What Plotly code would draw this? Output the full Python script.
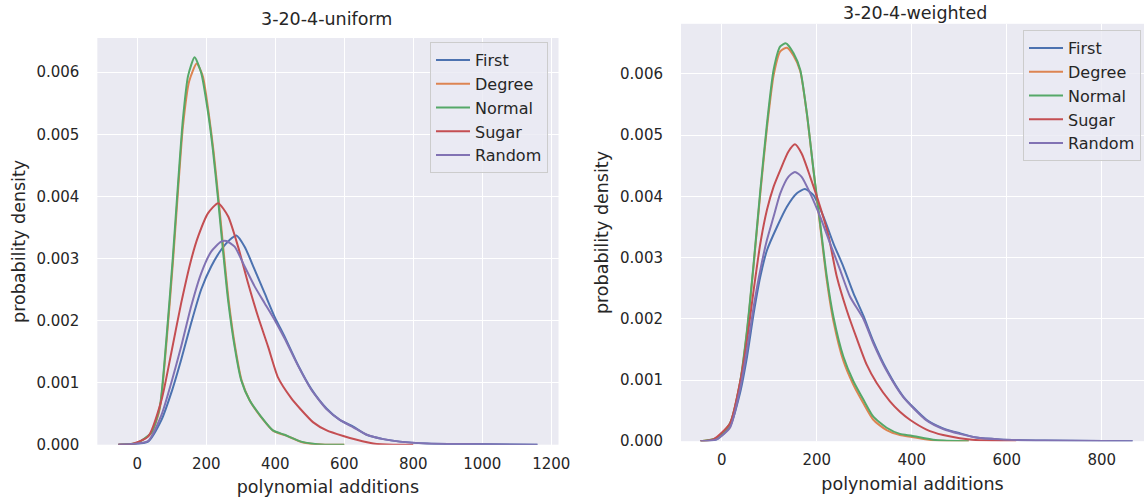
import plotly.graph_objects as go

# ---------------- data ----------------
series_names = ["First", "Degree", "Normal", "Sugar", "Random"]
colors = ["#4C72B0", "#DD8452", "#55A868", "#C44E52", "#8172B3"]

panel_titles = ["3-20-4-uniform", "3-20-4-weighted"]
x_label = "polynomial additions"
y_label = "probability density"

# ---- left panel: 3-20-4-uniform ----
uni_first_x = [-55, -17, 31, 70, 98, 127, 156, 185, 214, 243, 268, 287, 311, 340, 369, 398, 427, 466, 504, 549, 587, 626, 665, 713, 761, 839, 955, 1160]
uni_first_y = [0, 0.00001, 0.00005, 0.0004, 0.00083, 0.00137, 0.00196, 0.0025, 0.00287, 0.00314, 0.0033, 0.00337, 0.00319, 0.00282, 0.00244, 0.00206, 0.00174, 0.00128, 0.0009, 0.00058, 0.0004, 0.00029, 0.00016, 0.00009, 0.00005, 0.00002, 0.00001, 0.0]

uni_degree_x = [-55, 0, 41, 65, 84, 103, 118, 132, 150, 172, 190, 207, 221, 236, 250, 265, 284, 303, 327, 361, 395, 430, 478, 545, 600]
uni_degree_y = [0, 0.00003, 0.00019, 0.00058, 0.00162, 0.00293, 0.0041, 0.00512, 0.00585, 0.00614, 0.00593, 0.00533, 0.00472, 0.00392, 0.00312, 0.00231, 0.00156, 0.00102, 0.0007, 0.00043, 0.00022, 0.00015, 0.00004, 0.0, 0.0]

uni_normal_x = [-55, 0, 41, 65, 84, 103, 118, 132, 147, 166, 185, 205, 219, 234, 248, 263, 282, 301, 325, 359, 393, 427, 475, 543, 600]
uni_normal_y = [0, 0.00003, 0.0002, 0.00061, 0.00169, 0.00303, 0.00421, 0.00524, 0.00594, 0.00624, 0.00599, 0.00535, 0.00475, 0.00395, 0.00314, 0.00233, 0.00158, 0.00104, 0.00072, 0.00045, 0.00023, 0.00016, 0.00005, 0.0, 0.0]

uni_sugar_x = [-55, -17, 31, 70, 98, 127, 156, 176, 205, 234, 263, 292, 321, 350, 379, 408, 446, 472, 510, 549, 597, 636, 684, 742, 800]
uni_sugar_y = [0, 0.00001, 0.00013, 0.00072, 0.00147, 0.00228, 0.00298, 0.00335, 0.00373, 0.00389, 0.00368, 0.00319, 0.0026, 0.00206, 0.00158, 0.00108, 0.00075, 0.00058, 0.00036, 0.00023, 0.00014, 0.00008, 0.00002, 0.0, 0.0]

uni_random_x = [-55, -17, 31, 70, 98, 127, 156, 185, 214, 243, 258, 282, 311, 340, 369, 398, 427, 466, 504, 549, 587, 626, 665, 713, 761, 839, 955, 1160]
uni_random_y = [0, 0.00001, 0.00006, 0.00048, 0.00099, 0.00158, 0.00223, 0.00276, 0.00311, 0.00327, 0.00328, 0.00319, 0.00287, 0.00255, 0.00228, 0.00201, 0.00171, 0.00127, 0.00089, 0.00057, 0.0004, 0.00028, 0.00016, 0.00009, 0.00005, 0.00002, 0.00001, 0.0]

# ---- right panel: 3-20-4-weighted ----
wei_first_x = [-45, -11, 17, 38, 53, 67, 81, 95, 116, 137, 158, 175, 193, 214, 235, 256, 277, 298, 319, 347, 382, 431, 466, 501, 536, 585, 677, 865]
wei_first_y = [0, 0.00003, 0.00024, 0.00078, 0.00138, 0.00209, 0.00269, 0.00312, 0.0035, 0.00383, 0.00405, 0.00412, 0.00402, 0.00367, 0.00323, 0.00285, 0.00242, 0.00205, 0.00163, 0.00117, 0.00073, 0.00035, 0.00021, 0.00013, 0.00006, 0.00003, 0.00001, 0]

wei_degree_x = [-45, -11, 17, 38, 53, 67, 81, 95, 109, 123, 137, 151, 165, 179, 193, 207, 221, 235, 256, 277, 298, 319, 347, 375, 400, 450, 520]
wei_degree_y = [0, 0.00005, 0.00028, 0.00093, 0.00179, 0.00288, 0.00405, 0.00512, 0.00598, 0.00637, 0.00643, 0.0063, 0.00605, 0.00535, 0.00442, 0.00352, 0.00263, 0.00196, 0.00131, 0.00092, 0.00062, 0.00035, 0.00018, 0.0001, 0.00007, 0.00001, 0]

wei_normal_x = [-45, -11, 17, 38, 53, 67, 81, 95, 109, 123, 135, 151, 165, 179, 193, 207, 221, 235, 256, 277, 298, 319, 347, 375, 400, 450, 520]
wei_normal_y = [0, 0.00005, 0.00029, 0.00095, 0.00182, 0.00291, 0.0041, 0.00519, 0.00607, 0.00645, 0.0065, 0.00634, 0.00607, 0.00536, 0.00443, 0.00356, 0.00269, 0.00203, 0.00138, 0.00098, 0.00068, 0.0004, 0.00022, 0.00012, 0.00009, 0.00002, 0]

wei_sugar_x = [-45, -18, 17, 38, 53, 67, 81, 95, 109, 123, 140, 154, 168, 186, 207, 225, 242, 263, 284, 305, 326, 354, 375, 396, 431, 466, 501, 557, 620]
wei_sugar_y = [0, 0.00003, 0.00029, 0.00095, 0.00165, 0.00247, 0.00323, 0.00378, 0.00416, 0.00443, 0.00473, 0.00485, 0.0047, 0.00432, 0.00383, 0.00334, 0.00269, 0.00214, 0.00168, 0.00125, 0.00095, 0.00065, 0.00048, 0.00035, 0.00019, 0.0001, 0.00005, 0.00001, 0]

wei_random_x = [-45, -11, 17, 38, 53, 67, 81, 95, 109, 123, 140, 154, 168, 186, 207, 228, 249, 270, 298, 319, 347, 382, 431, 466, 501, 536, 585, 677, 865]
wei_random_y = [0, 0.00003, 0.00022, 0.00084, 0.00149, 0.0022, 0.0028, 0.00329, 0.00367, 0.00405, 0.00432, 0.0044, 0.00432, 0.00405, 0.00367, 0.00323, 0.0028, 0.00236, 0.002, 0.0016, 0.00115, 0.00072, 0.00034, 0.0002, 0.00012, 0.00006, 0.00003, 0.00001, 0]

left_series = [(uni_first_x, uni_first_y), (uni_degree_x, uni_degree_y), (uni_normal_x, uni_normal_y),
               (uni_sugar_x, uni_sugar_y), (uni_random_x, uni_random_y)]
right_series = [(wei_first_x, wei_first_y), (wei_degree_x, wei_degree_y), (wei_normal_x, wei_normal_y),
                (wei_sugar_x, wei_sugar_y), (wei_random_x, wei_random_y)]

# ---------------- figure ----------------
W, H = 1144, 502
FONT = "DejaVu Sans"
TXT = "#262626"

fig = go.Figure()
for (xs, ys), name, col in zip(left_series, series_names, colors):
    fig.add_trace(go.Scatter(x=xs, y=ys, name=name, mode="lines",
                             line=dict(color=col, width=2, shape="spline", smoothing=0.6),
                             xaxis="x", yaxis="y", legend="legend"))
for (xs, ys), name, col in zip(right_series, series_names, colors):
    fig.add_trace(go.Scatter(x=xs, y=ys, name=name, mode="lines",
                             line=dict(color=col, width=2, shape="spline", smoothing=0.6),
                             xaxis="x2", yaxis="y2", legend="legend2"))

def xax(domain, rng, anchor):
    return dict(domain=domain, range=rng, anchor=anchor, tick0=0, dtick=200,
                showgrid=True, gridcolor="white", gridwidth=1.3, zeroline=False,
                showline=False, ticks="", ticklabelstandoff=8,
                tickfont=dict(family=FONT, size=15, color=TXT),
                title=dict(text=x_label, font=dict(family=FONT, size=17.5, color=TXT), standoff=9),
                automargin=False, fixedrange=True)

def yax(domain, rng, anchor):
    return dict(domain=domain, range=rng, anchor=anchor, tick0=0, dtick=0.001, tickformat=".3f",
                showgrid=True, gridcolor="white", gridwidth=1.3, zeroline=False,
                showline=False, ticks="", ticklabelstandoff=17,
                tickfont=dict(family=FONT, size=15, color=TXT),
                title=dict(text=y_label, font=dict(family=FONT, size=17.5, color=TXT), standoff=6),
                automargin=False, fixedrange=True)

legend_style = dict(bgcolor="rgba(234,234,242,0.8)", bordercolor="#CCCCCC", borderwidth=1,
                    font=dict(family=FONT, size=16, color=TXT), xanchor="right", yanchor="top",
                    tracegroupgap=0, itemwidth=34)

fig.update_layout(
    width=W, height=H,
    margin=dict(l=0, r=0, t=0, b=0),
    paper_bgcolor="white", plot_bgcolor="#EAEAF2",
    font=dict(family=FONT, color=TXT),
    showlegend=True,
    xaxis=xax([0.0851, 0.4882], [-116, 1221], "y"),
    yaxis=yax([0.1141, 0.9243], [0, 0.00655], "x"),
    xaxis2=xax([0.5953, 1.0], [-86, 889], "y2"),
    yaxis2=yax([0.1211, 0.9526], [0, 0.00682], "x2"),
    legend=dict(x=548 / W, y=1 - 42 / H, **legend_style),
    legend2=dict(x=1141 / W, y=1 - 30 / H, **legend_style),
    annotations=[
        dict(text=panel_titles[0], x=326.7 / W, y=1 - 19 / H, xref="paper", yref="paper",
             xanchor="center", yanchor="middle", showarrow=False,
             font=dict(family=FONT, size=17.5, color=TXT)),
        dict(text=panel_titles[1], x=915 / W, y=1 - 0.5 / H, xref="paper", yref="paper",
             xanchor="center", yanchor="top", showarrow=False,
             font=dict(family=FONT, size=17.5, color=TXT)),
    ],
)

fig.write_html("out.html", config={"displayModeBar": False},
               post_script="document.body.style.margin='0';")
